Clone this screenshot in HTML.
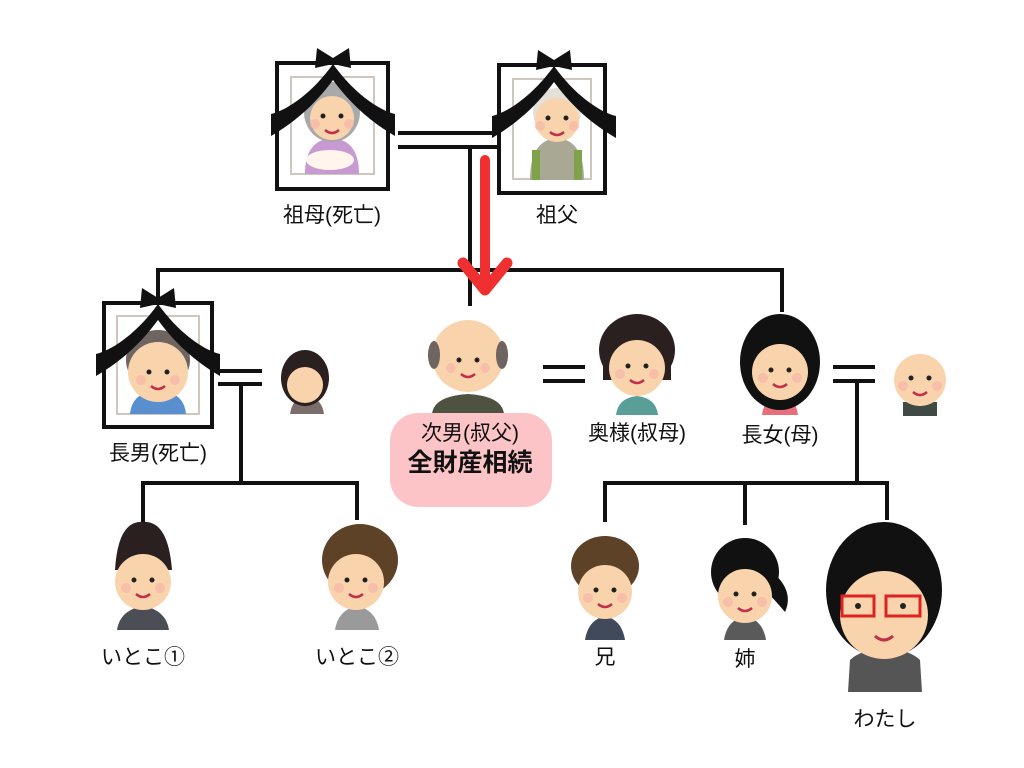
<!DOCTYPE html>
<html><head><meta charset="utf-8"><style>
body{margin:0;background:#fff}
svg{display:block}
text{font-family:"Liberation Sans","Noto Sans CJK JP",sans-serif;fill:#111}
</style></head><body>
<svg width="1024" height="768" viewBox="0 0 1024 768">
<defs>
<g id="drape">
<path d="M0,2 C-20,30 -45,48 -62,52 L-62,74 C-45,64 -22,48 0,18 C22,48 45,64 62,74 L62,52 C45,48 20,30 0,2Z" fill="#111"/>
<path d="M-16,-14 L0,-4 L16,-14 L18,6 L0,2 L-18,6Z" fill="#111"/>
</g>
<g id="eyes"><circle cx="-9" cy="0" r="2.5" fill="#222"/><circle cx="9" cy="0" r="2.5" fill="#222"/><path d="M-7,14 Q0,20 7,14" stroke="#c0304a" stroke-width="2.5" fill="none"/><circle cx="-17" cy="8" r="5" fill="#f6b5a8" opacity=".7"/><circle cx="17" cy="8" r="5" fill="#f6b5a8" opacity=".7"/></g>
</defs>
<!-- lines -->
<g stroke="#111" stroke-width="4" fill="none">
<line x1="398" y1="133" x2="497" y2="133"/><line x1="398" y1="147" x2="497" y2="147"/>
<line x1="470" y1="147" x2="470" y2="306"/>
<polyline points="158,302 158,270 782,270 782,312"/>
<line x1="218" y1="371" x2="262" y2="371"/><line x1="218" y1="384" x2="262" y2="384"/>
<line x1="241" y1="384" x2="241" y2="483"/>
<polyline points="143,522 143,483 357,483 357,520"/>
<line x1="543" y1="367" x2="585" y2="367"/><line x1="543" y1="381" x2="585" y2="381"/>
<line x1="833" y1="367" x2="875" y2="367"/><line x1="833" y1="381" x2="875" y2="381"/>
<line x1="857" y1="381" x2="857" y2="483"/>
<polyline points="605,522 605,483 887,483 887,520"/>
<line x1="745" y1="483" x2="745" y2="525"/>
</g>
<!-- red arrow -->
<g stroke="#f03030" stroke-linecap="round" stroke-linejoin="round" fill="none">
<line x1="485" y1="160" x2="485" y2="285" stroke-width="10"/>
<polyline points="463,263 485,290 507,263" stroke-width="11"/>
</g>
<!-- frames -->
<g>
<rect x="277" y="63" width="111" height="126" fill="#fff" stroke="#111" stroke-width="4"/>
<rect x="291" y="77" width="83" height="97" fill="#fff" stroke="#cfc6bd" stroke-width="2"/>
<rect x="499" y="65" width="106" height="128" fill="#fff" stroke="#111" stroke-width="4"/>
<rect x="513" y="79" width="78" height="100" fill="#fff" stroke="#cfc6bd" stroke-width="2"/>
<rect x="104" y="303" width="108" height="124" fill="#fff" stroke="#111" stroke-width="4"/>
<rect x="117" y="316" width="82" height="98" fill="#fff" stroke="#cfc6bd" stroke-width="2"/>
</g>
<!-- grandma -->
<path d="M305,174 Q305,140 332,138 Q359,140 359,174Z" fill="#c79ad2"/>
<ellipse cx="330" cy="160" rx="24" ry="10" fill="#fff5ec"/>
<ellipse cx="332" cy="112" rx="28" ry="30" fill="#a9a9a9"/>
<circle cx="332" cy="118" r="22" fill="#f9d3ac"/>
<use href="#eyes" x="332" y="116"/>
<!-- grandpa -->
<path d="M530,180 Q530,140 557,138 Q584,140 584,180Z" fill="#a8a894"/>
<rect x="532" y="150" width="8" height="30" fill="#7fa24a"/><rect x="574" y="150" width="8" height="30" fill="#7fa24a"/>
<circle cx="557" cy="112" r="24" fill="#e4e0d8"/>
<circle cx="557" cy="120" r="22" fill="#f9d3ac"/>
<use href="#eyes" x="557" y="118"/>
<!-- eldest son -->
<path d="M130,414 Q132,392 158,390 Q184,392 186,414Z" fill="#5a8fcf"/>
<ellipse cx="158" cy="360" rx="32" ry="30" fill="#6e6460"/>
<circle cx="158" cy="372" r="30" fill="#f9d3ac"/>
<use href="#eyes" x="158" y="372"/>
<use href="#drape" x="333" y="62"/>
<use href="#drape" x="554" y="64"/>
<use href="#drape" x="158" y="302"/>
<!-- wife1 -->
<path d="M290,414 Q292,398 307,397 Q322,398 324,414Z" fill="#7b6d69"/>
<ellipse cx="305" cy="378" rx="24" ry="28" fill="#2b2020"/>
<circle cx="305" cy="385" r="18" fill="#f9d3ac"/>
<!-- second son -->
<path d="M432,414 Q434,396 468,394 Q502,396 504,414Z" fill="#4d5340"/>
<circle cx="468" cy="356" r="36" fill="#f9d3ac"/>
<ellipse cx="434" cy="355" rx="6" ry="14" fill="#6e6460"/><ellipse cx="502" cy="355" rx="6" ry="14" fill="#6e6460"/>
<use href="#eyes" x="468" y="360"/>
<!-- aunt -->
<path d="M616,415 Q618,398 637,396 Q656,398 658,415Z" fill="#5a9e98"/>
<ellipse cx="637" cy="350" rx="38" ry="36" fill="#2b2020"/>
<rect x="603" y="350" width="68" height="30" fill="#2b2020"/>
<circle cx="637" cy="368" r="28" fill="#f9d3ac"/>
<use href="#eyes" x="637" y="366"/>
<!-- mother -->
<path d="M762,415 Q764,398 780,396 Q796,398 798,415Z" fill="#e86f7a"/>
<ellipse cx="780" cy="362" rx="40" ry="48" fill="#111"/>
<circle cx="780" cy="372" r="28" fill="#f9d3ac"/>
<use href="#eyes" x="780" y="370"/>
<!-- husband -->
<rect x="903" y="402" width="34" height="14" fill="#3f4a44"/>
<circle cx="920" cy="380" r="26" fill="#f9d3ac"/>
<use href="#eyes" x="920" y="378"/>
<!-- cousin1 -->
<path d="M117,630 Q120,610 143,606 Q166,610 169,630Z" fill="#4b4f55"/>
<path d="M115,570 Q118,520 143,522 Q168,520 172,570Z" fill="#2b2020"/>
<circle cx="143" cy="582" r="28" fill="#f9d3ac"/>
<use href="#eyes" x="143" y="580"/>
<!-- cousin2 -->
<path d="M335,630 Q338,610 357,606 Q376,610 379,630Z" fill="#9a9a9a"/>
<ellipse cx="360" cy="560" rx="38" ry="36" fill="#5d4228"/>
<circle cx="356" cy="582" r="28" fill="#f9d3ac"/>
<use href="#eyes" x="356" y="580"/>
<!-- brother -->
<path d="M585,640 Q588,620 605,616 Q622,620 625,640Z" fill="#404a5b"/>
<ellipse cx="605" cy="566" rx="34" ry="30" fill="#5d4228"/>
<circle cx="605" cy="592" r="27" fill="#f9d3ac"/>
<use href="#eyes" x="605" y="590"/>
<!-- sister -->
<path d="M724,640 Q727,620 745,616 Q763,620 766,640Z" fill="#5a5a5a"/>
<ellipse cx="745" cy="572" rx="34" ry="34" fill="#111"/>
<path d="M770,570 Q795,590 785,612 Q775,600 765,590Z" fill="#111"/>
<circle cx="745" cy="596" r="27" fill="#f9d3ac"/>
<use href="#eyes" x="745" y="594"/>
<!-- me -->
<path d="M848,692 L850,660 Q860,650 885,648 Q910,650 920,660 L922,692Z" fill="#555"/>
<ellipse cx="884" cy="590" rx="58" ry="68" fill="#111"/>
<circle cx="884" cy="615" r="44" fill="#f9d3ac"/>
<g fill="none" stroke="#d22" stroke-width="3"><rect x="842" y="596" width="32" height="20"/><rect x="886" y="596" width="34" height="20"/></g>
<circle cx="858" cy="606" r="3" fill="#222"/><circle cx="903" cy="606" r="3" fill="#222"/>
<path d="M875,636 Q884,644 893,636" stroke="#c0304a" stroke-width="3" fill="none"/>
<!-- pink box -->
<rect x="390" y="413" width="162" height="94" rx="28" fill="#fcc4c6"/>
<!-- labels -->
<g font-size="21" text-anchor="middle">
<text x="332" y="222">祖母(死亡)</text>
<text x="557" y="222">祖父</text>
<text x="158" y="460">長男(死亡)</text>
<text x="470" y="440">次男(叔父)</text>
<text x="637" y="440">奥様(叔母)</text>
<text x="780" y="442">長女(母)</text>
<text x="143" y="664">いとこ①</text>
<text x="357" y="664">いとこ②</text>
<text x="605" y="664">兄</text>
<text x="745" y="666">姉</text>
<text x="885" y="726">わたし</text>
<text x="470" y="471" font-size="25" font-weight="bold">全財産相続</text>
</g>
</svg>
</body></html>
